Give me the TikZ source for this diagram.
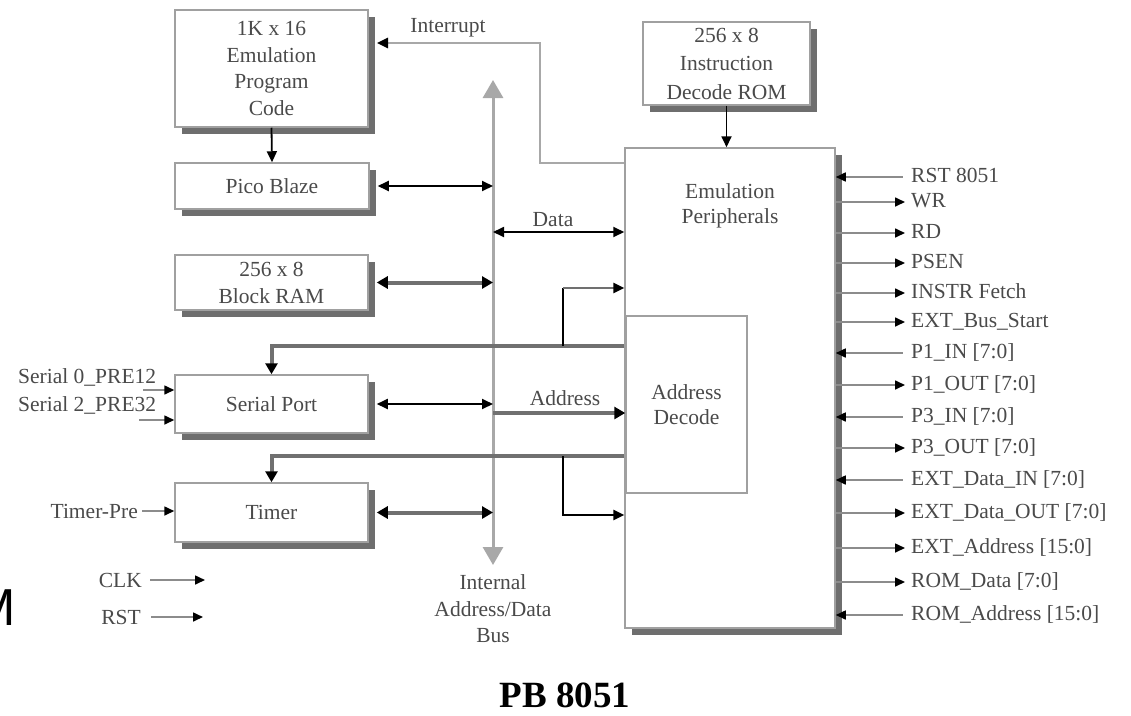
\documentclass[tikz,border=0pt]{standalone}
\usepackage{fontspec}
\setmainfont{Liberation Serif}
\newfontfamily\msans{Liberation Sans}
\usetikzlibrary{arrows.meta,shadows}
\definecolor{boxline}{HTML}{A0A0A0}
\definecolor{shadowc}{HTML}{6E6E6E}
\definecolor{thickc}{HTML}{707070}
\definecolor{busc}{HTML}{A8A8A8}
\definecolor{txt}{HTML}{4A4A4A}
\definecolor{sigc}{HTML}{8C8C8C}
\begin{document}
\begin{tikzpicture}[x=1pt,y=-1pt,
  >={Triangle[length=11pt,width=10pt,color=black]},
  lbl/.style={text=txt,font=\fontsize{21.5}{25}\selectfont,inner sep=0pt},
  siglbl/.style={lbl,anchor=west,text height=15pt,text depth=4pt},
  blk/.style={draw=boxline,line width=1.5pt,fill=white,text=txt,align=center,inner sep=0pt,
    general shadow={fill=shadowc,shadow xshift=7pt,shadow yshift=-7pt}},
  thinblack/.style={draw=black,line width=1.8pt},
  thickgray/.style={draw=thickc,line width=4pt,>={Triangle[length=11pt,width=12pt,color=black]}},
  midgray/.style={draw=thickc,line width=2.5pt},
  busline/.style={draw=busc,line width=3pt,{Triangle[length=18pt,width=20pt]}-{Triangle[length=18pt,width=20pt]}},
  sig/.style={draw=sigc,line width=1.6pt,>={Triangle[length=10pt,width=9pt,color=black]}},
  sig out/.style={->,shorten >=6pt},
  sig in/.style={<-,shorten >=8pt}]
\useasboundingbox (0,0) rectangle (1131,715);
\clip (0,0) rectangle (1131,715);
\fill[white] (0,0) rectangle (1131,715);

% blocks
\node[blk,minimum width=193pt,minimum height=117pt,font=\fontsize{21.5}{26.7}\selectfont] (code) at (271.5,68.5) {1K x 16\\Emulation\\Program\\Code};
\node[blk,minimum width=194pt,minimum height=46pt,font=\fontsize{21.5}{25}\selectfont] (pico) at (272,186) {Pico Blaze};
\node[blk,minimum width=193pt,minimum height=55pt,font=\fontsize{21.5}{27}\selectfont] (ram) at (271.5,282.5) {256 x 8\\Block RAM};
\node[blk,minimum width=193pt,minimum height=58pt,font=\fontsize{21.5}{25}\selectfont] (serial) at (271.5,404) {Serial Port};
\node[blk,minimum width=193pt,minimum height=59pt,font=\fontsize{21.5}{25}\selectfont] (timer) at (271.5,512.5) {Timer};
\node[blk,minimum width=167pt,minimum height=83pt,font=\fontsize{21.5}{28.5}\selectfont] (rom) at (726.5,63.5) {256 x 8\\Instruction\\Decode ROM};
\node[blk,minimum width=210pt,minimum height=480pt] (emu) at (730,388) {};
\node[lbl,align=center,font=\fontsize{21.5}{25}\selectfont] (emutxt) at (730,206) {Emulation\\Peripherals};
\node[draw=boxline,line width=1.5pt,fill=white,minimum width=121pt,minimum height=177pt,inner sep=0pt,
  text=txt,align=center,font=\fontsize{21.5}{25}\selectfont] (adec) at (686.5,404.5) {Address\\Decode};

% bus
\coordinate (bustop) at (493,80);
\coordinate (busbot) at (493,565);
\draw[busline] (busbot) -- (bustop);
\node[lbl,align=center,font=\fontsize{21.5}{26.5}\selectfont] (buslbl) at (493,609) {Internal\\Address/Data\\Bus};

% interrupt
\coordinate (intA) at (540,163);
\coordinate (intB) at (540,43);
\coordinate (intend) at (377,43);
\draw[draw=busc,line width=2.5pt,->] (emu.west |- intA) -- (intA) -- (intB) -- (intend);
\node[lbl] (intlbl) at (448,28) {Interrupt};

% top connections
\draw[thinblack,->] (code.south) -- (pico.north);
\draw[thinblack,->] (rom.south) -- (rom.south |- emu.north);
\draw[thinblack,<->] ([xshift=8pt]pico.east) -- (pico.east -| bustop);
\draw[thickgray,<->] ([xshift=8pt]ram.east) -- (ram.east -| bustop);
\draw[thinblack,<->] ([xshift=8pt]serial.east) -- (serial.east -| bustop);
\draw[thickgray,<->] ([xshift=8pt]timer.east) -- (timer.east -| bustop);

% data
\coordinate (dataL) at (493,232);
\draw[thinblack,<->] (dataL) -- (emu.west |- dataL);
\node[lbl] (datalbl) at (553,220) {Data};

% address
\coordinate (addrL) at (493,413);
\draw[thickgray,->] (addrL) -- (adec.west |- addrL);
\node[lbl] (addrlbl) at (565,398) {Address};

% feeds to serial and timer
\coordinate (sfeed) at (625,346);
\draw[thickgray,->] (emu.west |- sfeed) -- (serial.north |- sfeed) -- (serial.north);
\coordinate (tfeed) at (625,456);
\draw[thickgray,->] (emu.west |- tfeed) -- (timer.north |- tfeed) -- (timer.north);

% brackets
\coordinate (j1) at (563,346);
\coordinate (j2) at (563,288);
\draw[thinblack] (j1) -- (j2);
\draw[midgray,->] (j2) -- (emu.west |- j2);
\coordinate (j3) at (563,456);
\coordinate (j4) at (563,515);
\draw[thinblack,line width=2.5pt,->] (j3) -- (j4) -- (emu.west |- j4);

% left inputs
\node[lbl,anchor=west] (s0) at (18,377) {Serial 0\_PRE12};
\node[lbl,anchor=west] (s2) at (18,405) {Serial 2\_PRE32};
\coordinate (s0a) at (143,390);
\coordinate (s2a) at (139,420);
\draw[sig,->] (s0a) -- (serial.west |- s0a);
\draw[sig,->] (s2a) -- (serial.west |- s2a);
\node[lbl,anchor=east] (tp) at (138,511) {Timer-Pre};
\draw[sig,->] ([xshift=4pt]tp.east) -- (timer.west |- tp.east);
\node[lbl,anchor=east] (clk) at (142,580) {CLK};
\coordinate (clkend) at (205,580);
\draw[sig,->] ([xshift=8pt]clk.east) -- (clkend);
\node[lbl,anchor=east] (rst) at (141,617) {RST};
\coordinate (rstend) at (203,617);
\draw[sig,->] ([xshift=10pt]rst.east) -- (rstend);

% right signals
\foreach \y/\t/\d [count=\i] in {177/{RST 8051}/in, 202/{WR}/out, 233/{RD}/out, 263/{PSEN}/out,
  293/{INSTR Fetch}/out, 322/{EXT\_Bus\_Start}/out, 353/{P1\_IN [7:0]}/in, 385/{P1\_OUT [7:0]}/out,
  417/{P3\_IN [7:0]}/in, 448/{P3\_OUT [7:0]}/out, 480/{EXT\_Data\_IN [7:0]}/in,
  513/{EXT\_Data\_OUT [7:0]}/out, 548/{EXT\_Address [15:0]}/out, 582/{ROM\_Data [7:0]}/out,
  615/{ROM\_Address [15:0]}/in}{
  \node[siglbl] (r\i) at (911,\y) {\t};
  \draw[sig,sig \d] (emu.east |- r\i.west) -- (r\i.west);
}

% fragment and title
\node[font=\msans\fontsize{52}{52}\selectfont,anchor=east,text=black,inner sep=0pt] (mfrag) at (16,608) {M};
\node[font=\bfseries\fontsize{37}{40}\selectfont,text=black,inner sep=0pt] (title) at (565,695) {PB 8051};
\end{tikzpicture}
\end{document}
